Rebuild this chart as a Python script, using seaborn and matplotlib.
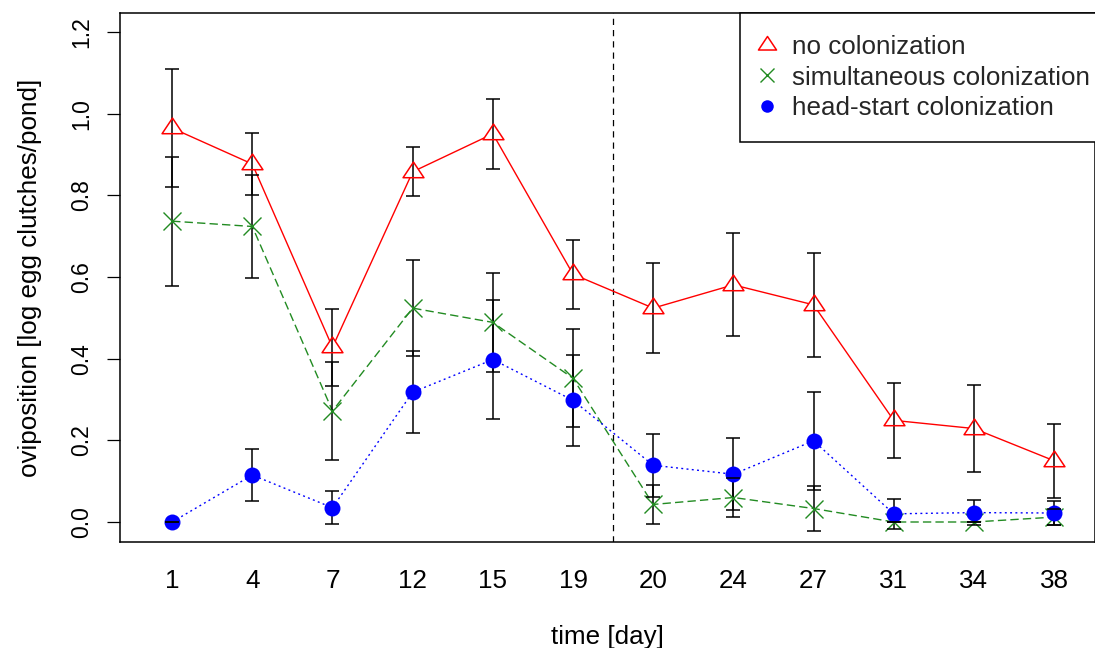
import numpy as np
import pandas as pd
import matplotlib
matplotlib.use("Agg")
import matplotlib.pyplot as plt
from matplotlib.path import Path
from matplotlib.lines import Line2D
import seaborn as sns

# ---- data ----
days = ["1", "4", "7", "12", "15", "19", "20", "24", "27", "31", "34", "38"]
series_names = ["no colonization", "simultaneous colonization", "head-start colonization"]
no_col = [0.965, 0.877, 0.428, 0.858, 0.951, 0.607, 0.524, 0.581, 0.532, 0.249, 0.229, 0.150]
no_col_se = [0.145, 0.075, 0.095, 0.060, 0.086, 0.085, 0.110, 0.126, 0.128, 0.092, 0.107, 0.090]
sim = [0.737, 0.724, 0.272, 0.524, 0.489, 0.352, 0.043, 0.060, 0.033, 0.000, 0.000, 0.012]
sim_se = [0.158, 0.125, 0.120, 0.118, 0.122, 0.120, 0.048, 0.048, 0.055, 0.000, 0.000, 0.020]
head = [0.000, 0.115, 0.035, 0.318, 0.398, 0.298, 0.139, 0.117, 0.199, 0.020, 0.023, 0.022]
head_se = [0.000, 0.064, 0.040, 0.100, 0.145, 0.111, 0.077, 0.088, 0.120, 0.036, 0.030, 0.030]
y_ticks = [0.0, 0.2, 0.4, 0.6, 0.8, 1.0, 1.2]
split_after = "19"   # dashed divider drawn between day 19 and day 20

sns.set_style("ticks")
plt.rcParams["font.family"] = ["Liberation Sans", "DejaVu Sans"]

W, H = 1095, 648
fig = plt.figure(figsize=(W / 100, H / 100), dpi=100)
ax = fig.add_axes([120 / W, 1 - 542 / H, 1 - 120 / W, (542 - 13) / H])

pos = np.arange(1, len(days) + 1)
df = pd.DataFrame({
    "pos": np.tile(pos, 3),
    "value": no_col + sim + head,
    "se": no_col_se + sim_se + head_se,
    "treatment": np.repeat(series_names, len(days)),
})

colors = {series_names[0]: "#FF0000", series_names[1]: "#228B22", series_names[2]: "#0000FF"}
dashes = {series_names[0]: "", series_names[1]: (6, 3), series_names[2]: (1.4, 2.4)}

sns.lineplot(data=df, x="pos", y="value", hue="treatment", style="treatment",
             palette=colors, dashes=dashes, markers=False, legend=False,
             estimator=None, errorbar=None, sort=False, ax=ax, lw=1.0, zorder=1)

tri = Path([(-1, -0.5), (1, -0.5), (0, 1.0), (-1, -0.5)],
           [Path.MOVETO, Path.LINETO, Path.LINETO, Path.CLOSEPOLY])

# white interior for the open triangles (hides the line inside them)
d0 = df[df.treatment == series_names[0]]
ax.plot(d0.pos, d0.value, ls="none", marker=tri, ms=15, mfc="white", mec="white", mew=0, zorder=2)

# error bars
for name in series_names:
    d = df[df.treatment == name]
    eb = ax.errorbar(d.pos, d.value, yerr=d.se, fmt="none", ecolor="black",
                     elinewidth=1.1, capsize=5, capthick=1.1, zorder=3)
    for c in eb[1]:
        c.set_zorder(6)

# markers
ax.plot(d0.pos, d0.value, ls="none", marker=tri, ms=15, mfc="none", mec="#FF0000", mew=1.1, zorder=4)
d1 = df[df.treatment == series_names[1]]
ax.plot(d1.pos, d1.value, ls="none", marker="x", ms=13, mec="#228B22", mew=1.0, zorder=4)
d2 = df[df.treatment == series_names[2]]
ax.plot(d2.pos, d2.value, ls="none", marker="o", ms=11.5, mfc="#0000FF", mec="#0000FF", mew=0, zorder=4)

# divider
idx = days.index(split_after)
ax.axvline((pos[idx] + pos[idx + 1]) / 2, color="black", lw=0.9, ls=(0, (5, 4)), zorder=0.5)

# axes
ax.set_xlim(0.35, 12.51)
ax.set_ylim(-0.049, 1.247)
ax.set_xticks(pos)
ax.set_xticklabels(days)
ax.set_yticks(y_ticks)
ax.set_yticklabels([f"{v:.1f}" for v in y_ticks])
ax.tick_params(axis="x", length=0, pad=19.5, labelsize=18.7, colors="black")
ax.tick_params(axis="y", direction="out", length=9.4, width=0.9, pad=10,
               labelsize=16.5, colors="black", labelrotation=90, left=True)
for lab in ax.get_yticklabels():
    lab.set_va("center")
for s in ax.spines.values():
    s.set_visible(True)
    s.set_color("black")
    s.set_linewidth(1.1)

ax.set_xlabel("time [day]", fontsize=18.7, color="black")
ax.xaxis.set_label_coords(0.5, (542 - 637) / 529)
ax.xaxis.label.set_va("center")
ax.set_ylabel("oviposition [log egg clutches/pond]", fontsize=18.7, color="black")
ax.yaxis.set_label_coords((30 - 120) / 975, 0.5)
ax.yaxis.label.set_va("center")

handles = [
    Line2D([], [], ls="none", marker=tri, ms=13, mfc="none", mec="#FF0000", mew=1.1, label=series_names[0]),
    Line2D([], [], ls="none", marker="x", ms=10, mec="#228B22", mew=1.0, label=series_names[1]),
    Line2D([], [], ls="none", marker="o", ms=9, mfc="#0000FF", mec="#0000FF", mew=0, label=series_names[2]),
]
leg = ax.legend(handles=handles, loc="upper right", bbox_to_anchor=(1.0175, 1.0),
                borderaxespad=0, frameon=True, fancybox=False, edgecolor="black",
                framealpha=1, fontsize=18.7, handlelength=0.35, handletextpad=0.8,
                borderpad=0.85, labelspacing=0.25)
leg.get_frame().set_linewidth(1.1)
leg.set_zorder(10)

fig.savefig("out.png", dpi=100)
